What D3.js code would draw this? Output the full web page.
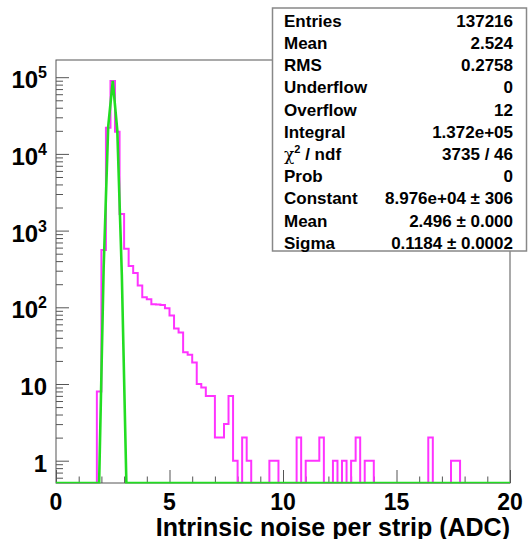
<!DOCTYPE html>
<html>
<head>
<meta charset="utf-8">
<script src="https://cdn.jsdelivr.net/npm/d3@7"></script>
<style>
  html, body { margin: 0; padding: 0; background: #fff; }
  svg { display: block; }
  text { font-family: "Liberation Sans", Arial, Helvetica, sans-serif; font-weight: bold; fill: #000; }
</style>
</head>
<body>
<svg id="chart" width="529" height="539"></svg>
<script>
// ---- data ----
const xRange = [0, 20];
const binWidth = 0.2;
// 100 bins of width 0.2 from 0 to 20
const binCount = [
  0,0,0,0,0,0,0,0,0,8,                         // 0.0 - 1.8
  560,22000,89000,19500,1650,580,345,280,192,135, // 2.0 - 3.8
  127,110,109,107,97,78,53,47,26,24,           // 4.0 - 5.8
  19,10,9,7,7,2,2,3,7,1,                       // 6.0 - 7.8
  0,2,1,0,0,0,0,1,1,0,                         // 8.0 - 9.8
  0,0,0,2,0,1,1,1,2,0,                         // 10.0 - 11.8
  0,1,0,1,0,1,2,0,1,1,                         // 12.0 - 13.8
  0,0,0,0,0,0,0,0,0,0,                         // 14.0 - 15.8
  0,0,2,0,0,0,0,1,1,0,                         // 16.0 - 17.8
  0,0,0,0,0,0,0,0,0,0                          // 18.0 - 19.8
];
const fitX = [0, 1.9, 2.1, 2.3, 2.5, 2.7, 2.9, 3.1, 20];
const fitY = [0, 0.28, 335, 22800, 89700, 20400, 266, 0.2, 0];
const xMajor = [0, 5, 10, 15, 20];
const xMinor = [1,2,3,4,6,7,8,9,11,12,13,14,16,17,18,19];
const yMajor = [1, 10, 100, 1000, 10000, 100000];
const yMajorLabelBase = ["1", "10", "10", "10", "10", "10"];
const yMajorLabelExp  = ["", "", "2", "3", "4", "5"];
const yMinor = [0.6,0.7,0.8,0.9, 2,3,4,5,6,7,8,9, 20,30,40,50,60,70,80,90, 200,300,400,500,600,700,800,900, 2000,3000,4000,5000,6000,7000,8000,9000, 20000,30000,40000,50000,60000,70000,80000,90000];
const xTitle = "Intrinsic noise per strip (ADC)";
const statNames = ["Entries","Mean","RMS","Underflow","Overflow","Integral","CHI2","Prob","Constant","Mean","Sigma"];
const statValues = ["137216","2.524","0.2758","0","12","1.372e+05","3735 / 46","0","8.976e+04 \u00b1 306","2.496 \u00b1 0.000","0.1184 \u00b1 0.0002"];

// ---- layout ----
const X0 = 56, X1 = 510, Y0 = 483, Y1 = 60;
const yMin = 0.512, yMax = 1.676e5;
const x = d3.scaleLinear().domain(xRange).range([X0, X1]);
const y = d3.scaleLog().domain([yMin, yMax]).range([Y0, Y1]);
const yc = v => y(Math.max(v, yMin));

const svg = d3.select("#chart");
const axisColor = "#555";

svg.append("defs").append("clipPath").attr("id", "clip")
  .append("rect").attr("x", X0).attr("y", Y1 - 1).attr("width", X1 - X0 + 1).attr("height", Y0 - Y1 + 1.5);

// frame
svg.append("rect").attr("x", X0).attr("y", Y1).attr("width", X1 - X0).attr("height", Y0 - Y1)
  .attr("fill", "none").attr("stroke", axisColor).attr("stroke-width", 1);

function styleAxis(g) {
  g.select(".domain").remove();
  g.selectAll(".tick line").attr("stroke", axisColor).attr("stroke-width", 1);
  g.selectAll(".tick text").remove();
}
svg.append("g").attr("transform", `translate(${X0},0)`)
  .call(d3.axisRight(y).tickValues(yMajor).tickSize(13).tickFormat(""))
  .call(styleAxis);
svg.append("g").attr("transform", `translate(${X0},0)`)
  .call(d3.axisRight(y).tickValues(yMinor).tickSize(7).tickFormat(""))
  .call(styleAxis);
svg.append("g").attr("transform", `translate(0,${Y0})`)
  .call(d3.axisTop(x).tickValues(xMajor).tickSize(13).tickFormat(""))
  .call(styleAxis);
svg.append("g").attr("transform", `translate(0,${Y0})`)
  .call(d3.axisTop(x).tickValues(xMinor).tickSize(6.5).tickFormat(""))
  .call(styleAxis);

// y labels
yMajor.forEach((v, i) => {
  const t = svg.append("text").attr("x", 47).attr("y", y(v) + 11)
    .attr("text-anchor", "end").attr("font-size", 24);
  t.append("tspan").text(yMajorLabelBase[i]);
  if (yMajorLabelExp[i]) {
    t.append("tspan").attr("font-size", 16).attr("dy", -10).text(yMajorLabelExp[i]);
  }
});
// x labels
xMajor.forEach(v => {
  svg.append("text").attr("x", x(v)).attr("y", 510).attr("text-anchor", "middle")
    .attr("font-size", 23).text(String(v));
});
// x title
svg.append("text").attr("x", X1).attr("y", 535.5).attr("text-anchor", "end")
  .attr("font-size", 25).text(xTitle);

// histogram (step outline)
const histPts = [];
binCount.forEach((c, i) => {
  const lo = xRange[0] + i * binWidth;
  histPts.push([lo, c]);
  histPts.push([lo + binWidth, c]);
});
svg.append("path")
  .attr("clip-path", "url(#clip)")
  .attr("d", d3.line().x(d => x(d[0])).y(d => yc(d[1]))(histPts))
  .attr("fill", "none").attr("stroke", "#ff33ff").attr("stroke-width", 2);

// fit function
svg.append("path")
  .attr("clip-path", "url(#clip)")
  .attr("d", d3.line().x((d, i) => x(fitX[i])).y((d, i) => yc(fitY[i]))(fitX))
  .attr("fill", "none").attr("stroke", "#22dd22").attr("stroke-width", 2.6);

// stats box
const bx = 272.5, by = 8, bw = 254, bh = 243;
svg.append("rect").attr("x", bx).attr("y", by).attr("width", bw).attr("height", bh)
  .attr("fill", "#fff").attr("stroke", "#888").attr("stroke-width", 1.5);
statNames.forEach((n, i) => {
  const yy = 26.7 + 22.2 * i;
  const t = svg.append("text").attr("x", 284).attr("y", yy).attr("font-size", 17);
  if (n === "CHI2") {
    t.append("tspan").attr("font-weight", "normal").attr("font-family", "DejaVu Serif, serif").text("\u03c7");
    t.append("tspan").attr("font-size", 11).attr("dy", -7).text("2");
    t.append("tspan").attr("dy", 7).text(" / ndf");
  } else {
    t.text(n);
  }
  svg.append("text").attr("x", 513).attr("y", yy).attr("text-anchor", "end")
    .attr("font-size", 17).text(statValues[i]);
});
</script>
</body>
</html>
